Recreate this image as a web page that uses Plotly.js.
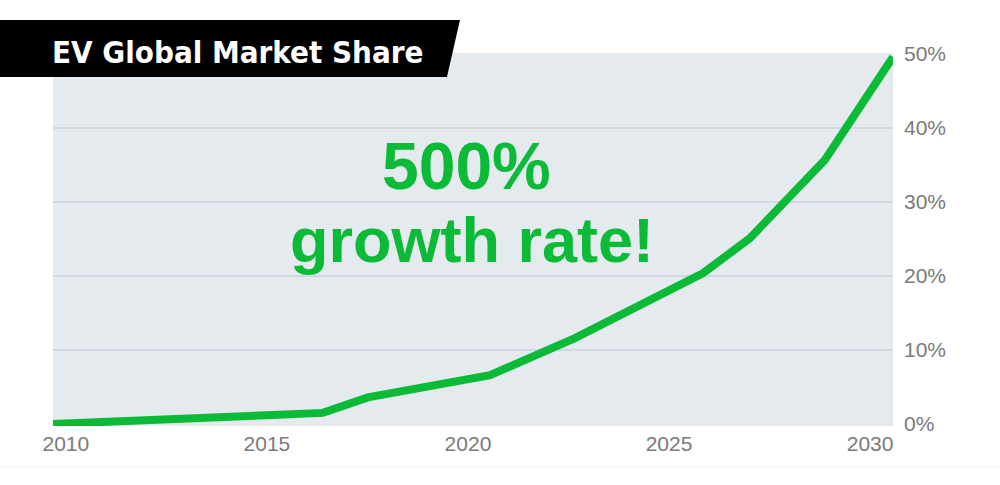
<!DOCTYPE html>
<html>
<head>
<meta charset="utf-8">
<script src="https://cdn.plot.ly/plotly-3.0.1.min.js"></script>
<style>html,body{margin:0;padding:0;background:#fff;}#chart{width:1000px;height:485px;}</style>
</head>
<body>
<div id="chart"></div>
<script>
const years = [2009.68, 2016.39, 2017.51, 2020.55, 2022.66, 2025.85, 2027.01, 2028.88, 2030.57];
const share = [0.0, 1.5, 3.6, 6.6, 11.6, 20.4, 25.1, 35.7, 49.6];
const xTicks = [2010, 2015, 2020, 2025, 2030];
const yTicks = [0, 10, 20, 30, 40, 50];
const yTickText = ['0%', '10%', '20%', '30%', '40%', '50%'];
const gridVals = [10, 20, 30, 40];
const titleText = 'EV Global Market Share';
const calloutTop = '500%';
const calloutBottom = 'growth rate!';

const green = '#0bba36';
const labelFont = {family: 'Liberation Sans, Arial, sans-serif', size: 21, color: '#7a7a7a'};

const shapes = gridVals.map(v => ({
  type: 'line', xref: 'paper', yref: 'y', x0: 0, x1: 1, y0: v, y1: v,
  line: {color: '#c9d3dc', width: 1.5}, layer: 'below'
}));
// title banner
shapes.push({
  type: 'path', xref: 'paper', yref: 'paper',
  path: 'M -0.0631 1.0885 L 0.4845 1.0885 L 0.469 0.9357 L -0.0631 0.9357 Z',
  fillcolor: '#000000', line: {width: 0}, layer: 'above'
});
// faint footer line
shapes.push({
  type: 'line', xref: 'paper', yref: 'paper', x0: -0.0631, x1: 1.127, y0: -0.11, y1: -0.11,
  line: {color: '#eeeeee', width: 1}
});

const data = [{
  x: years, y: share, type: 'scatter', mode: 'lines',
  line: {color: green, width: 8, shape: 'linear'},
  hoverinfo: 'skip', cliponaxis: false
}];

const layout = {
  width: 1000, height: 485,
  margin: {l: 53, r: 107, t: 53, b: 59, pad: 0},
  paper_bgcolor: '#ffffff',
  plot_bgcolor: '#e5eaee',
  showlegend: false,
  xaxis: {
    range: [2009.68, 2030.57], tickvals: xTicks, ticktext: xTicks.map(String),
    showgrid: false, zeroline: false, showline: false, ticks: '',
    tickfont: labelFont, ticklabelstandoff: 3, fixedrange: true
  },
  yaxis: {
    side: 'right', range: [-0.27, 50.13], tickvals: yTicks, ticktext: yTickText,
    showgrid: false, zeroline: false, showline: false, ticks: '',
    tickfont: labelFont, ticklabelstandoff: 10, fixedrange: true
  },
  shapes: shapes,
  annotations: [
    {xref: 'paper', yref: 'paper', x: 0.2202, y: 1.0027, xanchor: 'center', yanchor: 'middle',
     text: '<b>' + titleText + '</b>', showarrow: false,
     font: {family: 'DejaVu Sans Condensed, Liberation Sans, sans-serif', size: 31, color: '#ffffff'}},
    {xref: 'paper', yref: 'paper', x: 0.4917, y: 0.697, xanchor: 'center', yanchor: 'middle',
     text: '<b>' + calloutTop + '</b>', showarrow: false,
     font: {family: 'Liberation Sans, Arial, sans-serif', size: 66, color: green}},
    {xref: 'paper', yref: 'paper', x: 0.499, y: 0.4987, xanchor: 'center', yanchor: 'middle',
     text: '<b>' + calloutBottom + '</b>', showarrow: false,
     font: {family: 'Liberation Sans, Arial, sans-serif', size: 63, color: green}}
  ]
};

Plotly.newPlot('chart', data, layout, {staticPlot: true, displayModeBar: false});
</script>
</body>
</html>
